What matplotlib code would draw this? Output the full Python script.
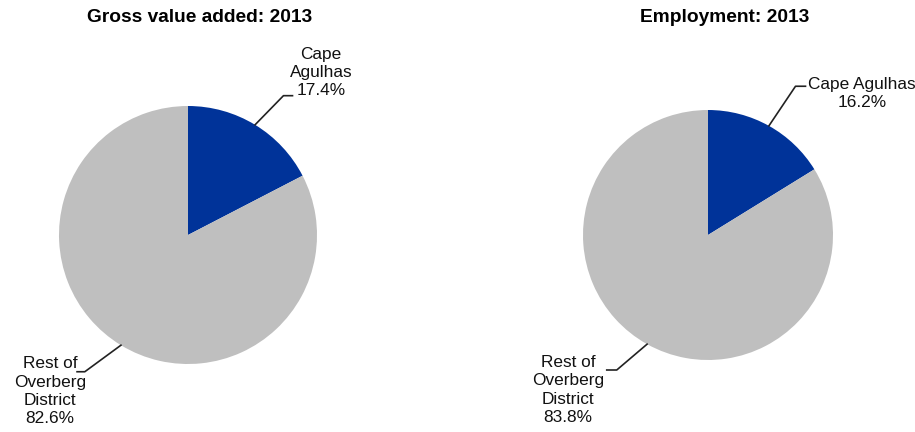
import numpy as np
import matplotlib
matplotlib.use("Agg")
import matplotlib.pyplot as plt

plt.rcParams['font.family'] = ['Liberation Sans', 'DejaVu Sans']

titles = ['Gross value added: 2013', 'Employment: 2013']
labels = [['Cape\nAgulhas', 'Rest of\nOverberg\nDistrict'],
          ['Cape Agulhas', 'Rest of\nOverberg\nDistrict']]
shares = [[17.4, 82.6], [16.2, 83.8]]
colors = ['#003399', '#bfbfbf']

W, H = 915, 432
fig = plt.figure(figsize=(9.15, 4.32), dpi=100)

# pie centre and radius in pixels (top-based y)
geom = [(188, 235, 129), (708, 235, 125)]
title_x = [200, 725]

# label placement: (elbow, end of horizontal, text position, alignment)
label_pos = [
    [((0.74, 1.08), (0.81, 1.08), (1.03, 1.06), 'bottom'),
     ((-0.80, -1.06), (-0.86, -1.06), (-1.07, -0.94), 'top')],
    [((0.70, 1.19), (0.78, 1.19), (1.23, 1.13), 'center'),
     ((-0.73, -1.08), (-0.81, -1.08), (-1.12, -0.96), 'top')],
]

for i in range(2):
    cx, cy, r = geom[i]
    ax = fig.add_axes([(cx - r) / W, (H - cy - r) / H, 2 * r / W, 2 * r / H])
    ax.pie(shares[i], colors=colors, startangle=90, counterclock=False,
           radius=1, wedgeprops=dict(linewidth=0))
    ax.set_xlim(-1, 1)
    ax.set_ylim(-1, 1)
    ax.set_aspect('equal')
    ax.axis('off')

    start = 90
    for j, val in enumerate(shares[i]):
        sweep = val / 100 * 360
        mid = np.deg2rad(start - sweep / 2)
        start -= sweep
        p0 = (np.cos(mid), np.sin(mid))
        elbow, end, tpos, va = label_pos[i][j]
        ax.plot([p0[0], elbow[0], end[0]], [p0[1], elbow[1], end[1]],
                color='#222222', lw=1.2, clip_on=False)
        ax.text(tpos[0], tpos[1], f'{labels[i][j]}\n{val:.1f}%',
                ha='center', va=va, fontsize=12.4, color='#111111',
                linespacing=1.28, clip_on=False)

    fig.text(title_x[i] / W, 1 - 18 / H, titles[i], ha='center', va='center',
             fontsize=13.8, fontweight='bold')

fig.savefig('out.png', dpi=100)
